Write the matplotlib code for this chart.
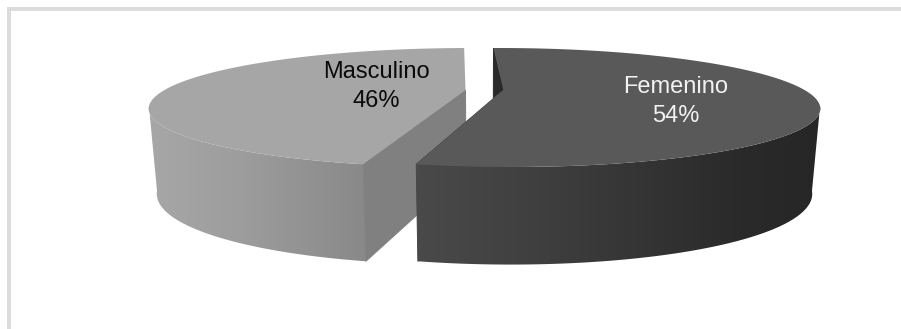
import matplotlib
matplotlib.use("Agg")
import matplotlib.pyplot as plt
import numpy as np
from matplotlib.patches import Polygon, Rectangle
from matplotlib.colors import LinearSegmentedColormap

categories = ["Femenino", "Masculino"]
percent = [54, 46]

# pie geometry on a pixel canvas
W, H = 901, 329
X0, Y0 = 484.5, 90
DX, DY = 301, 54.35
K = 0.294
OFFSET = 19 / 301
DEPTH = 80.7
K_SIDE = 0.173
SHRINK = 0.976
START = -1.4


def project(xc, theta, radius=1.0, lower=False):
    t = np.radians(theta)
    x = radius * np.sin(t)
    y = radius * np.cos(t)
    w = 1 + K * y
    px = DX * (x + xc) / w
    py = -DY * y / w
    if lower:
        px = px * SHRINK
        py = py + DEPTH / (1 + K_SIDE * y)
    return X0 + px, Y0 + py


def closed(xs, ys):
    return np.column_stack([xs, ys])


def gradient_fill(ax, verts, x_stops, grey_stops):
    # horizontal shading, clipped to the wall outline
    vmin, vmax = x_stops[0], x_stops[-1]
    pos = [(v - vmin) / (vmax - vmin) for v in x_stops]
    cols = [(g / 255, g / 255, g / 255) for g in grey_stops]
    cmap = LinearSegmentedColormap.from_list("wall", list(zip(pos, cols)))
    grad = np.linspace(0, 1, 512).reshape(1, -1)
    im = ax.imshow(grad, cmap=cmap, extent=[vmin, vmax, H, 0], aspect="auto", vmin=0, vmax=1,
                   interpolation="bilinear", zorder=2)
    patch = Polygon(verts, closed=True, transform=ax.transData, fc="none", ec="none")
    ax.add_patch(patch)
    im.set_clip_path(patch)


def top_face(ax, xc, a0, a1, grey):
    thetas = np.linspace(a0, a1, 200)
    xs, ys = project(xc, thetas)
    cx, cy = project(xc, 0.0, radius=0.0)
    verts = np.vstack([[cx, cy], closed(xs, ys)])
    ax.add_patch(Polygon(verts, closed=True, fc=str(grey / 255), ec="none", zorder=2))


def radial_wall(ax, xc, theta, grey):
    xa, ya = project(xc, theta)
    xb, yb = project(xc, theta, lower=True)
    xc0, yc0 = project(xc, 0.0, radius=0.0)
    xc1, yc1 = project(xc, 0.0, radius=0.0, lower=True)
    verts = [[xc0, yc0], [xa, ya], [xb, yb], [xc1, yc1]]
    # thin edge hides the seam against the curved wall
    ax.add_patch(Polygon(verts, closed=True, fc=str(grey / 255), ec=str(grey / 255), lw=0.7, zorder=2))


def outer_wall(ax, xc, a0, a1, x_stops, grey_stops):
    thetas = np.linspace(a0, a1, 200)
    xs, ys = project(xc, thetas)
    xb, yb = project(xc, thetas, lower=True)
    verts = np.vstack([closed(xs, ys), closed(xb, yb)[::-1]])
    gradient_fill(ax, verts, x_stops, grey_stops)


fig = plt.figure(figsize=(W / 100, H / 100), dpi=100)
ax = fig.add_axes([0, 0, 1, 1])
ax.set_xlim(0, W)
ax.set_ylim(H, 0)
ax.axis("off")

# frame around the chart area
ax.add_patch(Rectangle((7, 7), W - 7, 4, fc="#dcdcdc", ec="none", zorder=1))
ax.add_patch(Rectangle((7, 7), 4, H - 7, fc="#dcdcdc", ec="none", zorder=1))

fem_span = percent[0] / sum(percent) * 360
fem_a0, fem_a1 = START, START + fem_span
mas_a0, mas_a1 = fem_a1, START + 360

# back slice first, the front slice covers its cut wall
outer_wall(ax, -OFFSET, mas_a0, 254, [140, 240, 370], [168, 157, 136])
radial_wall(ax, -OFFSET, mas_a0, 128)
top_face(ax, -OFFSET, mas_a0, mas_a1, 166)

radial_wall(ax, OFFSET, fem_a0, 42)
radial_wall(ax, OFFSET, fem_a1, 74)
outer_wall(ax, OFFSET, 106, fem_a1, [410, 540, 740, 830], [74, 63, 42, 38])
top_face(ax, OFFSET, fem_a0, fem_a1, 89)

font = "Liberation Sans"
ax.text(376.5, 86.5, f"{categories[1]}\n{percent[1]}%", ha="center", va="center", fontsize=17,
        family=font, color="#0a0a0a", linespacing=1.39, zorder=3)
ax.text(676, 101.5, f"{categories[0]}\n{percent[0]}%", ha="center", va="center", fontsize=17,
        family=font, color="#f2f2f2", linespacing=1.39, zorder=3)

fig.savefig("out.png", dpi=100, facecolor="white")
